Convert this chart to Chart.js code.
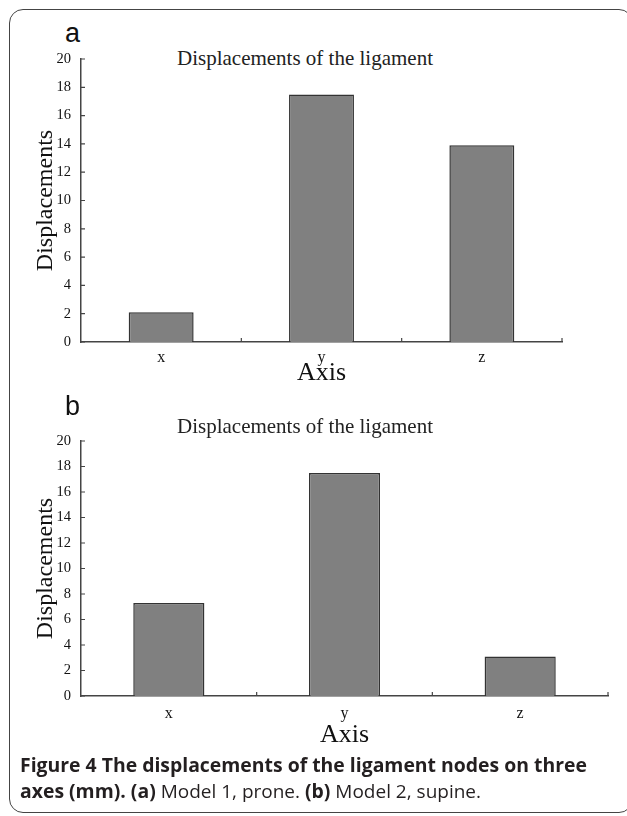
<!DOCTYPE html>
<html>
<head>
<meta charset="utf-8">
<script src="https://cdn.jsdelivr.net/npm/chart.js@4.4.0/dist/chart.umd.min.js"></script>
<style>
  body { margin: 0; width: 627px; height: 816px; position: relative; overflow: hidden; background: #fff; }
  .frame { position: absolute; left: 9px; top: 9px; width: 624px; height: 804px; border: 1.5px solid #444; border-radius: 14px; box-sizing: border-box; }
  .panel { position: absolute; left: 65px; font: 27px "Liberation Sans", Arial, sans-serif; line-height: 30px; color: #111; }
  .title { position: absolute; left: 0; width: 610px; text-align: center; font: 21px "Liberation Serif", "Times New Roman", serif; line-height: 24px; color: #222; }
  .box { position: absolute; left: 0; width: 627px; }
  .cap { position: absolute; left: 20px; font: 19.4px "Open Sans", sans-serif; line-height: 26px; color: #231f20; white-space: nowrap; }
  .cap b { font-weight: 700; }
  .cap span { font-size: 19px; }
</style>
</head>
<body>
<div class="frame"></div>
<div class="panel" style="top:18px">a</div>
<div class="title" style="top:46px">Displacements of the ligament</div>
<div class="box" style="top:0;height:400px"><canvas id="chartA"></canvas></div>
<div class="panel" style="top:391px">b</div>
<div class="title" style="top:414px">Displacements of the ligament</div>
<div class="box" style="top:390px;height:370px"><canvas id="chartB"></canvas></div>
<div class="cap" style="top:752px"><b>Figure 4 The displacements of the ligament nodes on three</b></div>
<div class="cap" style="top:778px"><b>axes (mm). (a)</b><span> Model 1, prone. </span><b>(b)</b><span> Model 2, supine.</span></div>

<script>
// data (mm)
const axisLabels = ['x', 'y', 'z']
const proneValues = [2.1, 17.5, 13.9]   // (a) model 1
const supineValues = [7.3, 17.5, 3.1]   // (b) model 2
const yMin = 0
const yMax = 20
const yStep = 2

const serif = '"Liberation Serif", "Times New Roman", serif'

// matlab style ticks: pointing into the plot
const innerTicks = {
  id: 'innerTicks',
  afterDatasetsDraw(chart) {
    const { ctx, chartArea, scales: { x, y } } = chart
    ctx.save()
    ctx.strokeStyle = '#444'
    ctx.lineWidth = 1.2
    ctx.beginPath()
    y.ticks.forEach((t, i) => {
      const py = y.getPixelForTick(i)
      ctx.moveTo(chartArea.left, py)
      ctx.lineTo(chartArea.left + 4, py)
    })
    const n = x.ticks.length
    for (let i = 1; i <= n; i++) {
      const px = i < n ? (x.getPixelForTick(i - 1) + x.getPixelForTick(i)) / 2 : chartArea.right
      ctx.moveTo(px, chartArea.bottom)
      ctx.lineTo(px, chartArea.bottom - 4)
    }
    ctx.stroke()
    ctx.restore()
  }
}

const makeChart = (id, values, pad, xHeight, tickPad) => {
  return new Chart(document.getElementById(id), {
    type: 'bar',
    data: {
      labels: axisLabels,
      datasets: [{
        label: 'Displacements',
        data: values,
        backgroundColor: '#808080',
        borderColor: '#333',
        borderWidth: 1.5,
        barPercentage: 0.405,
        categoryPercentage: 1.0,
      }],
    },
    options: {
      responsive: true,
      maintainAspectRatio: false,
      animation: false,
      layout: { padding: pad },
      plugins: { legend: { display: false }, tooltip: { enabled: false } },
      scales: {
        x: {
          offset: true,
          grid: { display: false },
          border: { display: true, color: '#444', width: 1.5 },
          ticks: { color: '#111', padding: tickPad, font: { family: serif, size: 16 } },
          title: { display: true, text: 'Axis', color: '#111', padding: { top: 0, bottom: 3 }, font: { family: serif, size: 26 } },
          afterFit: (s) => { s.height = xHeight },
        },
        y: {
          min: yMin,
          max: yMax,
          grid: { display: false },
          border: { display: true, color: '#444', width: 1.5 },
          ticks: { stepSize: yStep, color: '#111', padding: 2, font: { family: serif, size: 14.5 } },
          title: { display: true, text: 'Displacements', color: '#111', padding: { top: 11, bottom: 0 }, font: { family: serif, size: 24 } },
          afterFit: (s) => { s.width = 61 },
        },
      },
    },
    plugins: [innerTicks],
  })
}

makeChart('chartA', proneValues, { left: 20, right: 65, top: 59, bottom: 8 }, 50, -2)
makeChart('chartB', supineValues, { left: 20, right: 19, top: 51, bottom: 6 }, 58, 0)
</script>
</body>
</html>
